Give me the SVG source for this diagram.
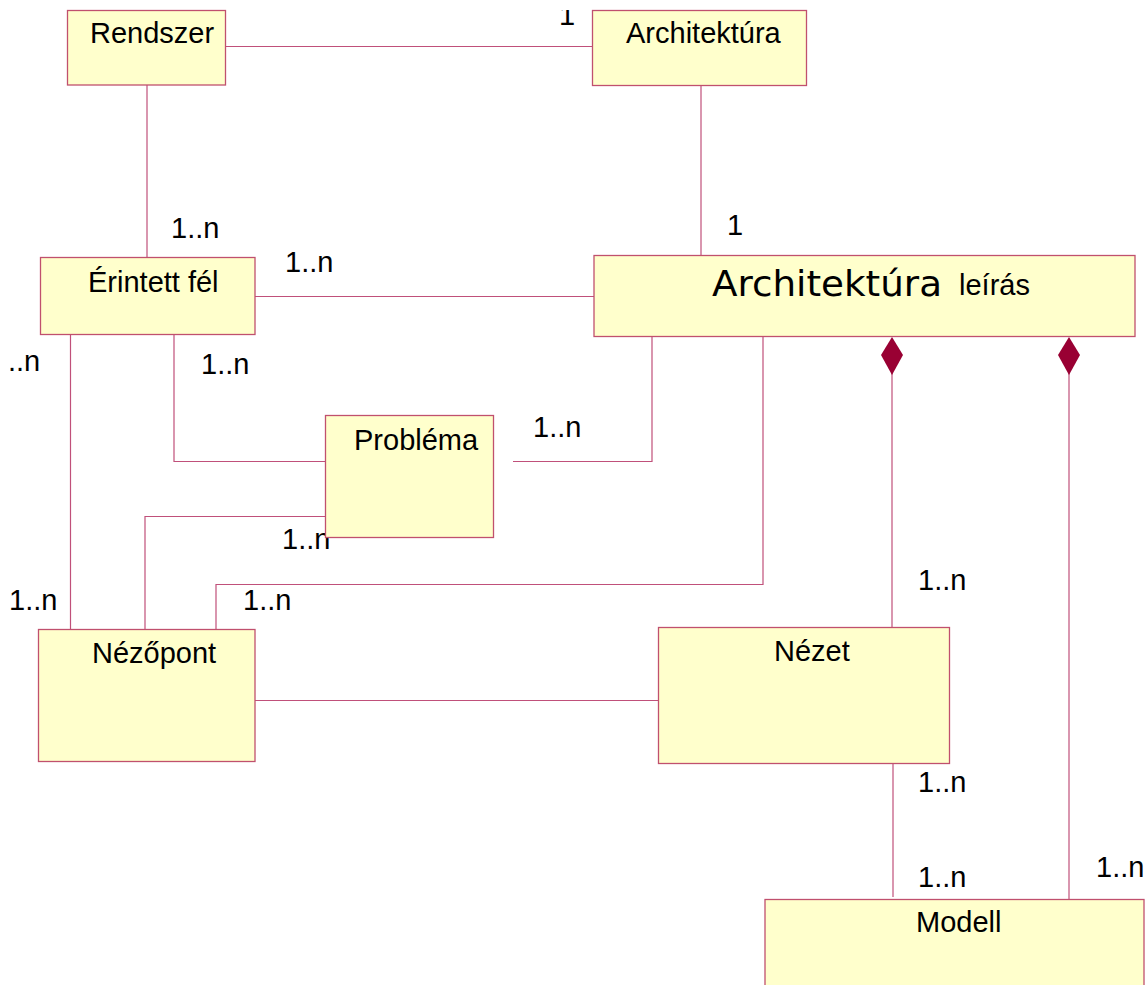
<svg xmlns="http://www.w3.org/2000/svg" width="1146" height="985" viewBox="0 0 1146 985">
  <style>
    .box { fill: #ffffcc; stroke: #c0506e; stroke-width: 1.3; }
    .conn { fill: none; stroke: #c0507a; stroke-width: 1.2; }
    .lbl { font-family: "Liberation Sans", Arial, sans-serif; font-size: 29px; fill: #000; }
    .comic { font-family: "DejaVu Sans", "Liberation Sans", sans-serif; font-size: 36px; fill: #000; }
    .diamond { fill: #990033; stroke: none; }
  </style>
  <defs>
    <clipPath id="topClip">
      <rect x="540" y="10" width="60" height="30"/>
    </clipPath>
  </defs>
  <rect width="1146" height="985" fill="#ffffff"/>

  <!-- associations -->
  <g id="connectors">
    <line class="conn" x1="225.5" y1="46.5" x2="592.5" y2="46.5"/>
    <line class="conn" x1="147" y1="85" x2="147" y2="257.5"/>
    <line class="conn" x1="701" y1="85.5" x2="701" y2="255.5"/>
    <line class="conn" x1="254" y1="296.5" x2="594" y2="296.5"/>
    <polyline class="conn" points="174,335 174,461.5 325.5,461.5"/>
    <polyline class="conn" points="652,336.5 652,461.5 513,461.5"/>
    <polyline class="conn" points="145,629.5 145,516.5 346,516.5"/>
    <polyline class="conn" points="763,336.5 763,584.5 216,584.5 216,629.5"/>
    <line class="conn" x1="70.5" y1="334.5" x2="70.5" y2="629.5"/>
    <line class="conn" x1="255" y1="700.5" x2="658.5" y2="700.5"/>
    <line class="conn" x1="892" y1="372" x2="892" y2="627.5"/>
    <line class="conn" x1="893" y1="763.5" x2="893" y2="897"/>
    <line class="conn" x1="1069" y1="372" x2="1069" y2="899.5"/>
    <polygon class="diamond" points="892,337 903,355 892,375 881,355"/>
    <polygon class="diamond" points="1069,337 1080,355 1069,375 1058,355"/>

    <!-- multiplicities -->
    <text class="lbl" x="559" y="25" clip-path="url(#topClip)">1</text>
    <text class="lbl" x="171" y="238">1..n</text>
    <text class="lbl" x="727" y="235">1</text>
    <text class="lbl" x="285" y="272">1..n</text>
    <text class="lbl" x="8" y="371">..n</text>
    <text class="lbl" x="201" y="374">1..n</text>
    <text class="lbl" x="533" y="437">1..n</text>
    <text class="lbl" x="282" y="549">1..n</text>
    <text class="lbl" x="9" y="610">1..n</text>
    <text class="lbl" x="243" y="610">1..n</text>
    <text class="lbl" x="918" y="590">1..n</text>
    <text class="lbl" x="918" y="792">1..n</text>
    <text class="lbl" x="918" y="887">1..n</text>
    <text class="lbl" x="1096" y="877">1..n</text>
  </g>

  <g id="rendszer">
    <rect class="box" x="67.5" y="10.5" width="158" height="74.5"/>
    <text class="lbl" x="90" y="43">Rendszer</text>
  </g>
  <g id="architektura">
    <rect class="box" x="592.5" y="10.5" width="214" height="75"/>
    <text class="lbl" x="626" y="43">Architektúra</text>
  </g>
  <g id="erintett-fel">
    <rect class="box" x="40.5" y="257.5" width="214.5" height="77"/>
    <text class="lbl" x="88" y="292">Érintett fél</text>
  </g>
  <g id="architektura-leiras">
    <rect class="box" x="594" y="255.5" width="541" height="81"/>
    <text x="712" y="296"><tspan class="comic" textLength="230" lengthAdjust="spacingAndGlyphs">Architektúra</tspan></text>
    <text class="lbl" x="959" y="295">leírás</text>
  </g>
  <g id="problema">
    <rect class="box" x="325.5" y="415.5" width="168" height="122"/>
    <text class="lbl" x="354" y="450">Probléma</text>
  </g>
  <g id="nezopont">
    <rect class="box" x="38.5" y="629.5" width="216.5" height="132"/>
    <text class="lbl" x="92" y="663">Nézőpont</text>
  </g>
  <g id="nezet">
    <rect class="box" x="658.5" y="627.5" width="291" height="136"/>
    <text class="lbl" x="774" y="661">Nézet</text>
  </g>
  <g id="modell">
    <rect class="box" x="765" y="899.5" width="379" height="100"/>
    <text class="lbl" x="916" y="932">Modell</text>
  </g>
</svg>
